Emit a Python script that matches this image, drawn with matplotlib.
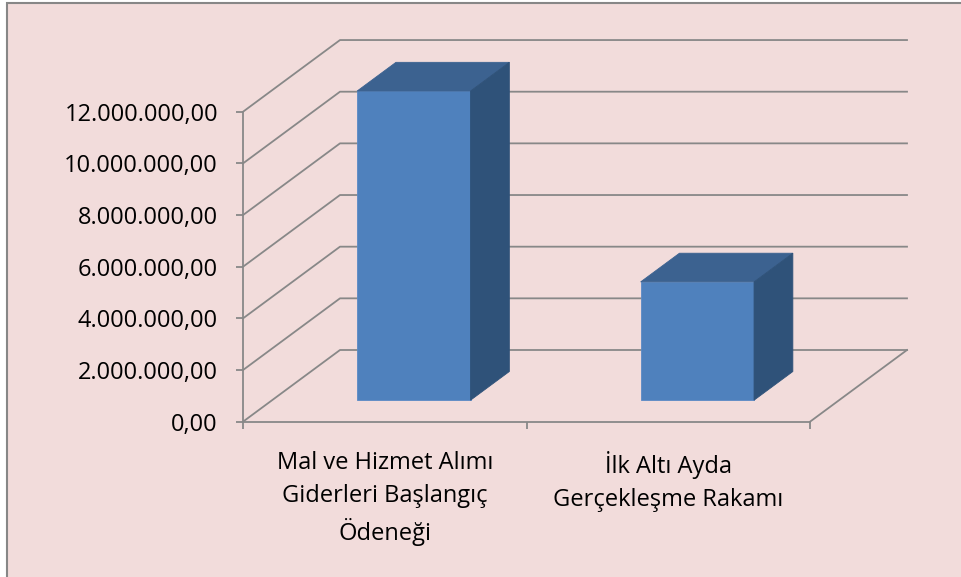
"""Mal ve hizmet alımı: başlangıç ödeneği ve ilk altı ay gerçekleşmesi (3B sütun görünümü)"""
import matplotlib
matplotlib.use('Agg')
import matplotlib.pyplot as plt
from matplotlib.patches import Polygon, Rectangle
from matplotlib.ticker import FuncFormatter, FixedLocator

# Veriler
categories = ['Mal ve Hizmet Alımı\nGiderleri Başlangıç\nÖdeneği',
              'İlk Altı Ayda\nGerçekleşme Rakamı']
values = [11970000, 4580000]
y_ticks = [0, 2e6, 4e6, 6e6, 8e6, 10e6, 12e6]

plt.rcParams['font.family'] = ['Open Sans', 'DejaVu Sans']

W, H = 961, 577
fig = plt.figure(figsize=(W / 100, H / 100), dpi=100)
fig.patch.set_facecolor('white')

# grafik alanı çerçevesi (sağ ve alt kenar görüntü dışında)
fig.patches.append(Rectangle((7 / W, -0.1), 1.2, (H - 3) / H + 0.1,
                             transform=fig.transFigure, facecolor='#F2DCDB',
                             edgecolor='#878787', linewidth=1.5, zorder=-1))

ax = fig.add_axes([0, 0, 1, 1])
ax.patch.set_visible(False)

# ön düzlem ölçeği (piksel)
x0, px_cat = 243, 283.5
y0, px_val = H - 421.7, 25.83e-6
ax.set_xlim(-x0 / px_cat, (W - x0) / px_cat)
ax.set_ylim(-y0 / px_val, (H - y0) / px_val)

# derinlik kaydırması (eğik izdüşüm)
DX = 97 / px_cat
DY = 71.7 / px_val


def proj(u, v, w):
    return (u + w * DX, v + w * DY)


grid_c = '#888888'
grid_lw = 1.3
n_cat = len(categories)
for t in y_ticks:
    # yan duvar ve arka duvar çizgileri
    a = proj(0, t, 0)
    b = proj(0, t, 1)
    c = proj(n_cat, t, 1)
    ax.plot([a[0], b[0], c[0]], [a[1], b[1], c[1]], color=grid_c, lw=grid_lw, zorder=1)
# zemin sağ kenarı
a = proj(n_cat, 0, 0)
b = proj(n_cat, 0, 1)
ax.plot([a[0], b[0]], [a[1], b[1]], color=grid_c, lw=grid_lw, zorder=1)

# sütunlar
bw = 0.2
d0, d1 = 0.3, 0.7
for i, v in enumerate(values):
    c = i + 0.5
    front = [proj(c - bw, 0, d0), proj(c + bw, 0, d0), proj(c + bw, v, d0), proj(c - bw, v, d0)]
    top = [proj(c - bw, v, d0), proj(c + bw, v, d0), proj(c + bw, v, d1), proj(c - bw, v, d1)]
    side = [proj(c + bw, 0, d0), proj(c + bw, 0, d1), proj(c + bw, v, d1), proj(c + bw, v, d0)]
    ax.add_patch(Polygon(front, closed=True, facecolor='#4F81BD', edgecolor='#5A8AC6', lw=0.6, zorder=3))
    ax.add_patch(Polygon(top, closed=True, facecolor='#3C6290', edgecolor='#3C6290', lw=0.6, zorder=3))
    ax.add_patch(Polygon(side, closed=True, facecolor='#2F5279', edgecolor='#2F5279', lw=0.6, zorder=3))

# eksenler
for s in ['top', 'right']:
    ax.spines[s].set_visible(False)
ax.spines['left'].set_position(('data', 0))
ax.spines['left'].set_bounds(0, y_ticks[-1])
ax.spines['bottom'].set_position(('data', 0))
ax.spines['bottom'].set_bounds(0, n_cat)
for s in ['left', 'bottom']:
    ax.spines[s].set_color(grid_c)
    ax.spines[s].set_linewidth(grid_lw)
    ax.spines[s].set_zorder(2)

ax.yaxis.set_major_locator(FixedLocator(y_ticks))
ax.yaxis.set_major_formatter(FuncFormatter(
    lambda v, p: f'{v:,.2f}'.replace(',', 'X').replace('.', ',').replace('X', '.')))
ax.tick_params(axis='y', direction='out', length=5, width=grid_lw, color=grid_c,
               labelsize=17, pad=13, labelcolor='black')

ax.xaxis.set_major_locator(FixedLocator(range(n_cat + 1)))
ax.xaxis.set_major_formatter(FuncFormatter(lambda v, p: ''))
ax.xaxis.set_minor_locator(FixedLocator([i + 0.5 for i in range(n_cat)]))
ax.set_xticklabels(categories, minor=True, linespacing=1.48)
ax.tick_params(axis='x', which='major', direction='out', length=5, width=grid_lw, color=grid_c)
ax.tick_params(axis='x', which='minor', length=0, pad=21, labelsize=17, labelcolor='black')
for lab in ax.get_xticklabels(minor=True):
    lab.set_verticalalignment('top')
    lab.set_horizontalalignment('center')

fig.savefig('out.png', dpi=100, facecolor=fig.get_facecolor())
